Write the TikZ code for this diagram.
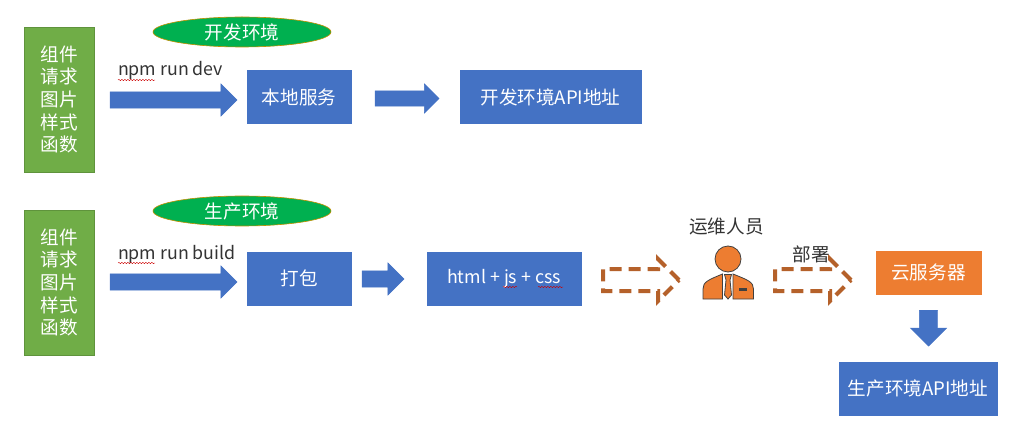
\documentclass[tikz,border=0pt]{standalone}
\usepackage{fontspec}
\setmainfont{Noto Sans CJK SC}
\usetikzlibrary{positioning,shapes.geometric,shapes.arrows,decorations.pathmorphing}
\definecolor{srcgreen}{HTML}{70AD47}
\definecolor{envgreen}{HTML}{00B050}
\definecolor{envedge}{HTML}{BF9000}
\definecolor{boxblue}{HTML}{4472C4}
\definecolor{boxorange}{HTML}{ED7D31}
\definecolor{dashbrown}{HTML}{B5612A}
\tikzset{
    txt/.style={font=\fontsize{18.6}{22.7}\selectfont, inner sep=0pt, outer sep=0pt},
    latintxt/.style={txt, font=\fontsize{17.8}{22}\selectfont},
    srcbox/.style={txt, fill=srcgreen, draw=srcgreen!85!black, line width=.5pt, text=white, align=center, minimum width=70pt, minimum height=145pt},
    envtag/.style={txt, ellipse, fill=envgreen, draw=envedge, line width=.6pt, text=white, minimum width=178pt, minimum height=30pt},
    bluebox/.style={txt, fill=boxblue, draw=boxblue, text=white, minimum height=53pt},
    blockarrow/.style={single arrow, fill=boxblue, draw=boxblue, inner sep=8pt, outer sep=0pt, single arrow head extend=8pt},
    dasharrow/.style={single arrow, draw=dashbrown, line width=4pt, dash pattern=on 12pt off 7pt, inner sep=9pt, outer sep=0pt, single arrow head extend=10pt, minimum height=76pt},
    squiggle/.style={red!80!black, line width=.4pt, decorate, decoration={snake, amplitude=.7pt, segment length=3pt}},
    person/.style={fill=boxorange, draw=black!75, line width=.8pt}
}
\begin{document}
\begin{tikzpicture}[x=1pt, y=1pt]
    \useasboundingbox (0,0) rectangle (1019,-430);

    % dev row
    \node[srcbox] (srcA) at (59,-99.5) {组件\\请求\\图片\\样式\\函数};
    \node[envtag] (envA) at (242,-32) {开发环境};
    \node[blockarrow, minimum height=127pt, right=16pt of srcA, yshift=-.5pt] (arrA) {};
    \node[latintxt, anchor=base west, text=black!80] (cmdA) at (118,-76) {npm run dev};
    \node[bluebox, minimum width=104pt, right=153pt of srcA, yshift=2.5pt] (localsrv) {本地服务};
    \node[blockarrow, minimum height=64pt, inner sep=7.5pt, single arrow head extend=7pt, right=24pt of localsrv, yshift=-1.5pt] (arrB) {};
    \node[bluebox, minimum width=181pt, right=109pt of localsrv] (devapi) {开发环境API地址};

    % build row
    \node[srcbox] (srcB) at (59,-282.5) {组件\\请求\\图片\\样式\\函数};
    \node[envtag] (envB) at (242,-211) {生产环境};
    \node[blockarrow, minimum height=127pt, right=16pt of srcB, yshift=.5pt] (arrC) {};
    \node[latintxt, anchor=base west, text=black!80] (cmdB) at (118,-259) {npm run build};
    \node[bluebox, minimum width=104pt, right=153pt of srcB, yshift=4pt] (pack) {打包};
    \node[blockarrow, minimum height=42pt, right=11pt of pack, yshift=-.5pt] (arrD) {};
    \node[bluebox, latintxt, minimum width=154pt, right=76pt of pack] (bundle) {html + js + css};

    % deploy
    \node[dasharrow, right=22pt of bundle, yshift=-1.5pt] (dashA) {};
    \coordinate[right=48pt of dashA] (staff);
    \node[txt, above=45pt of staff, xshift=-.5pt, text=black!80] (staffname) {运维人员};
    \node[dasharrow, right=96pt of dashA] (dashB) {};
    \node[txt, text=black!80] (deploy) at (811,-254) {部署};
    \node[txt, fill=boxorange, draw=boxorange, text=white, minimum width=105pt, minimum height=43pt] (cloud) at (928.5,-272.5) {云服务器};
    \node[single arrow, shape border rotate=270, fill=boxblue, draw=boxblue, inner sep=9pt, single arrow head extend=9pt, minimum height=36pt, below=16pt of cloud] (arrE) {};
    \node[bluebox, minimum width=158pt] (prodapi) at (918,-388.5) {生产环境API地址};

    % person
    \node[person, circle, minimum size=26pt, inner sep=0pt] (staffhead) at (728,-259) {};
    \draw[person] (703,-299) -- (703,-289) .. controls (703,-282) and (708,-280) .. (722.5,-274) -- (722.5,-285) -- (722.5,-299) -- cycle;
    \draw[person] (753.5,-299) -- (753.5,-289) .. controls (753.5,-282) and (748,-280) .. (733,-274) -- (733,-299) -- cycle;
    \draw[person] (724.5,-274.5) -- (731.5,-274.5) -- (730,-280) -- (731.5,-295) -- (728,-299) -- (724.5,-295) -- (726,-280) -- cycle;
    \fill[black!75] (739,-288) rectangle (747,-290.5);

    % spell check marks
    \draw[squiggle] ([yshift=-4pt]cmdA.base west) -- ++(37,0);
    \draw[squiggle] ([yshift=-4pt]cmdB.base west) -- ++(37,0);
    \draw[squiggle] (503,-287) -- (517,-287);
    \draw[squiggle] (538,-287) -- (563,-287);
\end{tikzpicture}
\end{document}
